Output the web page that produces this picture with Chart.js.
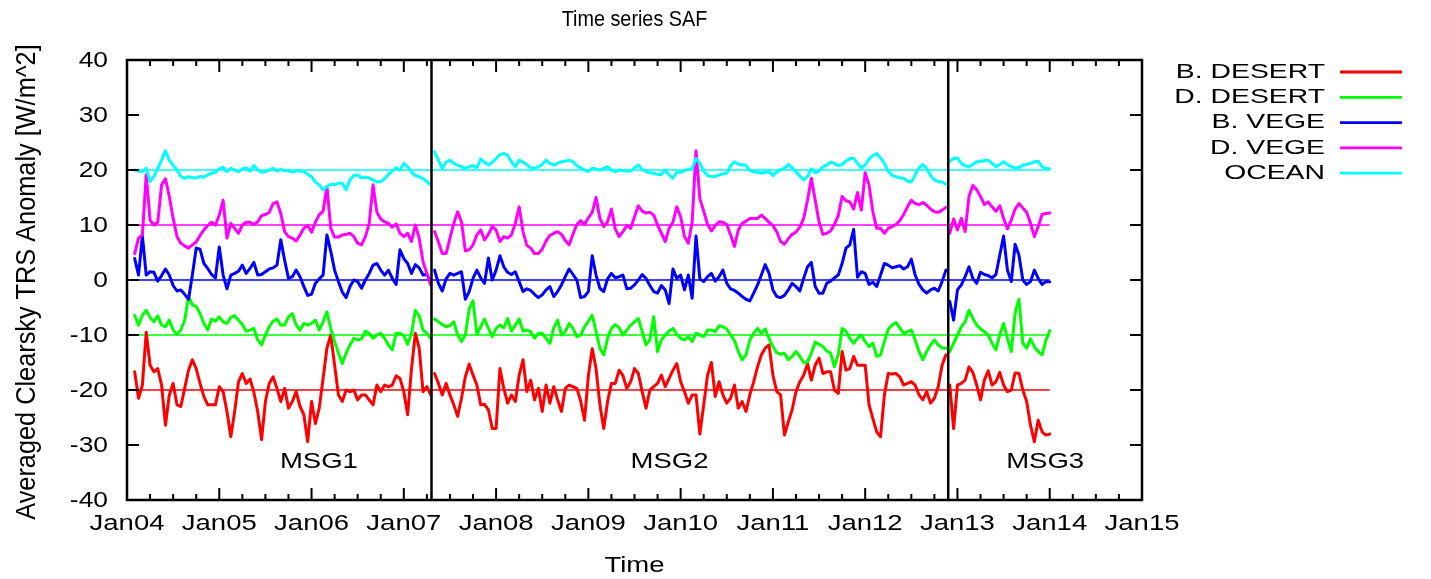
<!DOCTYPE html>
<html><head><meta charset="utf-8">
<script src="https://cdn.jsdelivr.net/npm/chart.js@4.4.1/dist/chart.umd.min.js"></script>
<style>html,body{margin:0;padding:0;background:#fff;}#wrap{width:1431px;height:579px;}</style>
</head><body><div id="wrap"><canvas id="c" width="1431" height="579"></canvas></div>
<script>
// ---- data (semi-monthly samples, 2004.0 .. 2014.0) ----
const startYear = 2004;
const samplesPerYear = 24;
const segmentBreaks = [2007.30, 2012.90];           // MSG1 -> MSG2, MSG2 -> MSG3
const seriesNames  = ['B. DESERT', 'D. DESERT', 'B. VEGE', 'D. VEGE', 'OCEAN'];
const seriesColors = ['#ff0000', '#00ff00', '#0000ff', '#ff00ff', '#00ffff'];
const refLevels = [-20, -10, 0, 10, 20];
const refSpan = [2004.0, 2014.0];
const yearTicks = [2004, 2005, 2006, 2007, 2008, 2009, 2010, 2011, 2012, 2013, 2014, 2015];
const yTicks = [-40, -30, -20, -10, 0, 10, 20, 30, 40];
const msgNames = ['MSG1', 'MSG2', 'MSG3'];
const msgX = [2006.08, 2009.88, 2013.95];
const msgY = [-33, -33, -33];

const bDesert = [
null,null,-16.7,-21.5,-19.1,-9.5,-15.5,-16.7,-16.1,-19.1,-26.4,-20.9,-18.8,-22.7,-23.0,-19.7,-16.4,-14.5,-16.1,-18.8,-21.2,-22.7,-22.7,-22.7,-19.4,-20.3,-23.9,-28.5,-23.9,-18.5,-17.0,-18.8,-18.0,-20.4,-23.9,-29.0,-22.1,-18.8,-17.6,-19.7,-22.1,-19.7,-23.3,-22.1,-20.3,-23.0,-24.5,-29.4,
-22.1,-26.1,-23.3,-17.9,-12.4,-10.0,-15.5,-20.9,-22.1,-20.0,-20.3,-20.0,-21.8,-20.9,-20.9,-21.8,-22.7,-19.1,-20.3,-19.1,-19.4,-19.1,-17.4,-17.9,-20.3,-24.5,-16.1,-9.7,-12.4,-20.3,-19.4,-20.9,-17.0,-18.8,-20.9,-18.8,-20.9,-22.7,-24.8,-21.5,-17.6,-15.3,-17.3,-19.1,-22.7,-22.6,-23.6,-27.0,
-27.0,-16.1,-19.7,-22.4,-20.9,-22.1,-17.3,-14.5,-20.3,-18.2,-21.8,-19.7,-23.9,-19.1,-22.4,-19.4,-21.8,-23.9,-19.7,-19.1,-19.4,-19.7,-22.0,-25.5,-17.4,-12.5,-16.1,-22.7,-27.0,-22.1,-18.8,-18.8,-16.4,-17.4,-19.7,-18.5,-16.1,-17.0,-20.3,-23.3,-20.0,-19.4,-18.8,-17.3,-19.4,-17.9,-16.4,-15.2,
-18.5,-20.3,-22.4,-20.9,-20.9,-28.0,-22.7,-17.3,-15.0,-21.2,-18.5,-20.9,-22.4,-21.5,-19.1,-23.3,-22.1,-23.9,-20.9,-18.5,-15.8,-13.6,-12.4,-11.8,-17.3,-20.3,-20.9,-28.2,-25.8,-23.6,-20.3,-18.5,-17.3,-15.2,-18.2,-15.5,-14.2,-17.0,-16.7,-16.7,-20.0,-20.6,-13.0,-16.4,-16.1,-13.9,-15.5,-15.5,
-15.5,-22.7,-25.2,-27.6,-28.5,-20.9,-17.0,-17.1,-17.0,-17.6,-19.1,-18.8,-18.5,-19.1,-20.9,-21.8,-20.3,-22.4,-21.5,-19.4,-15.5,-13.6,-19.1,-27.0,-19.1,-18.8,-18.2,-15.8,-16.8,-19.1,-21.8,-18.2,-16.5,-19.1,-18.5,-16.8,-19.1,-20.3,-20.0,-16.9,-17.0,-20.0,-22.1,-26.4,-29.4,-25.5,-27.6,-28.2,
-28.0];

const dDesert = [
null,null,-6.4,-8.2,-6.4,-5.5,-6.8,-7.6,-6.5,-8.2,-8.5,-7.3,-9.1,-9.9,-9.1,-7.3,-3.0,-4.5,-4.8,-6.1,-7.9,-9.1,-7.1,-7.5,-6.7,-7.6,-7.9,-6.8,-6.5,-7.3,-8.1,-9.3,-9.1,-8.8,-10.9,-11.8,-10.0,-8.5,-7.5,-7.1,-8.2,-8.2,-6.7,-6.1,-8.2,-9.1,-7.9,-8.2,
-7.9,-7.3,-9.1,-7.6,-5.8,-8.8,-11.2,-13.3,-15.2,-13.3,-11.8,-10.6,-10.9,-10.7,-9.3,-9.7,-10.6,-10.0,-9.7,-10.6,-11.8,-12.7,-9.7,-9.7,-10.1,-11.7,-9.7,-5.5,-6.5,-9.1,-9.7,-10.6,-7.1,-7.6,-8.1,-8.5,-8.3,-7.6,-10.0,-11.2,-10.0,-5.2,-3.8,-9.9,-8.5,-7.1,-8.8,-10.3,
-8.8,-8.2,-8.7,-7.0,-9.3,-8.2,-7.1,-9.3,-9.1,-9.4,-10.6,-9.7,-9.7,-10.6,-11.5,-8.7,-7.3,-10.0,-9.4,-7.9,-8.8,-10.3,-10.0,-8.5,-7.5,-6.4,-9.4,-12.4,-13.6,-10.6,-8.8,-8.1,-8.7,-10.0,-9.1,-8.2,-7.6,-7.0,-9.4,-11.8,-10.9,-6.7,-13.0,-10.9,-10.0,-9.3,-8.8,-9.9,
-10.6,-10.9,-10.3,-11.2,-9.7,-10.0,-10.3,-9.1,-9.1,-9.4,-8.3,-8.5,-8.9,-10.0,-11.0,-13.0,-14.5,-13.6,-10.9,-9.7,-8.8,-9.7,-8.9,-10.6,-12.1,-13.2,-13.5,-13.3,-14.5,-13.9,-13.0,-13.9,-15.0,-14.9,-13.3,-11.3,-11.7,-12.1,-12.9,-13.3,-15.8,-13.6,-8.8,-9.3,-10.6,-11.5,-10.6,-10.0,
-11.2,-12.1,-11.5,-13.9,-13.6,-11.2,-8.9,-8.2,-7.7,-8.7,-9.7,-9.4,-9.1,-10.9,-13.0,-14.5,-13.0,-11.8,-10.9,-11.8,-12.4,-12.4,-13.0,-11.5,-10.0,-8.5,-7.6,-5.5,-7.0,-8.2,-8.9,-9.4,-10.0,-11.5,-12.7,-10.0,-7.9,-10.6,-13.0,-6.0,-3.5,-11.5,-12.4,-10.7,-12.1,-13.0,-13.6,-11.0,
-9.2];

const bVege = [
null,null,3.9,0.9,8.0,0.9,1.5,1.4,-0.2,0.8,2.0,0.9,-1.0,-2.0,-1.8,-2.6,-3.5,0.9,5.8,5.6,3.0,2.1,1.0,0.4,6.0,0.9,-1.6,0.9,1.2,1.6,2.7,1.2,2.1,3.2,0.9,1.0,1.5,2.0,2.2,2.7,7.3,3.6,0.3,0.6,1.8,0.6,-1.2,-2.8,
-2.6,-0.6,0.2,0.9,8.2,5.2,1.8,-0.3,-2.2,-3.2,-1.2,0.0,-0.3,-1.5,0.0,1.2,2.7,3.0,1.8,0.9,1.8,0.3,-0.8,5.5,3.9,3.0,1.2,2.8,2.2,0.9,1.0,-0.3,1.8,-0.6,-2.0,0.2,1.2,0.9,1.2,1.5,-3.5,-2.1,0.3,1.8,0.4,-0.6,4.0,0.0,
1.8,4.4,2.4,1.4,1.0,1.5,-0.3,-2.1,-1.6,-1.9,-2.6,-3.2,-2.7,-1.8,-1.2,-3.0,-2.1,-0.9,0.6,2.0,1.0,0.0,-3.2,-3.0,-2.1,4.4,0.9,-1.5,-2.1,0.2,1.2,0.4,0.6,0.9,-1.6,-1.5,-0.9,0.0,1.0,0.3,-1.0,-2.1,-2.4,-1.0,-1.8,-4.3,2.0,0.3,
0.9,-1.8,0.9,-3.3,8.0,0.2,-0.3,0.6,1.2,-0.2,0.6,1.8,-0.6,-1.6,-1.9,-2.4,-3.0,-3.5,-3.8,-2.4,-0.9,0.9,2.8,1.2,-1.8,-3.0,-3.2,-2.8,-1.8,-0.6,-1.2,-2.0,0.3,2.4,3.2,-1.2,-2.4,-2.4,-0.6,-0.2,0.4,0.9,3.0,5.8,6.4,9.2,0.5,1.5,
1.2,-0.8,-0.4,-1.2,0.9,3.0,2.7,2.2,2.4,2.6,2.0,2.4,3.8,0.9,-0.8,-1.8,-2.4,-1.8,-1.5,-2.0,-0.3,1.8,-3.9,-7.3,-1.8,-0.9,0.6,2.4,0.3,-0.6,1.4,1.0,0.8,0.4,1.0,4.5,8.0,1.8,-0.3,6.5,4.5,0.0,-0.8,-0.3,1.8,0.3,-0.8,-0.3,
-0.3];

const dVege = [
null,null,4.8,7.6,8.2,19.1,10.9,10.0,10.5,17.3,18.4,15.2,11.2,7.9,6.7,6.2,5.8,6.4,6.9,8.1,9.1,9.9,10.5,10.0,11.8,14.5,7.6,10.3,9.4,8.5,10.0,10.5,10.5,10.1,10.6,11.7,11.9,12.3,13.9,14.2,12.1,8.8,7.9,7.6,7.1,8.2,9.4,9.9,
8.7,10.5,11.9,12.5,17.0,9.4,7.8,7.8,8.2,8.3,8.5,7.9,6.7,6.4,7.9,10.3,17.3,12.3,11.1,10.6,10.3,9.6,10.2,8.5,7.9,8.5,7.0,10.0,7.6,3.3,1.2,-0.9,8.8,6.9,4.8,4.8,7.6,10.3,12.4,10.6,5.3,5.5,6.4,8.2,9.1,7.3,8.3,9.7,
9.1,7.0,7.9,7.6,8.2,10.3,13.3,8.8,6.3,5.8,4.8,4.8,5.6,7.1,8.1,8.5,8.8,8.3,7.2,6.4,8.3,10.1,10.8,10.1,11.3,12.3,15.0,11.2,9.7,10.6,12.9,9.3,7.9,8.8,9.9,9.4,11.5,13.5,12.5,12.2,12.3,11.8,10.0,8.5,7.0,9.4,10.5,13.3,
11.5,7.9,6.7,10.6,23.5,14.8,12.5,10.1,8.9,9.9,10.6,10.5,10.1,8.2,6.1,9.1,10.3,10.7,11.2,11.2,11.2,11.8,11.2,10.5,9.9,8.8,7.0,6.5,7.5,8.3,8.7,9.6,11.2,14.5,18.5,14.5,10.6,8.3,8.5,8.9,10.1,11.7,15.2,14.4,14.2,12.9,15.9,12.7,
19.5,17.3,12.4,9.4,9.4,8.5,9.4,9.7,10.1,10.8,11.9,13.3,14.5,13.9,13.7,14.1,13.6,12.9,12.4,12.3,12.7,13.2,8.5,11.1,9.1,11.2,8.8,15.2,17.2,16.4,15.2,13.7,14.2,13.3,12.5,13.5,11.2,9.3,10.9,12.9,13.9,13.1,12.3,10.3,7.9,9.7,11.9,12.1,
12.2];

const ocean = [
null,null,20.0,19.8,19.7,20.3,17.9,18.8,20.3,21.8,23.5,21.8,20.9,20.0,18.8,18.5,18.8,18.6,18.6,18.8,18.7,19.1,19.4,19.6,20.2,20.5,19.7,20.3,20.0,19.7,20.2,20.4,19.8,20.8,20.0,19.6,19.7,20.0,20.3,19.8,20.1,19.9,19.8,19.7,19.8,19.8,19.7,19.2,
18.8,17.8,17.3,16.4,17.0,17.4,17.3,17.6,17.6,16.4,18.2,19.0,19.1,18.6,18.7,18.6,18.2,17.8,17.9,18.4,19.2,19.8,20.4,20.0,21.2,20.6,19.6,19.0,18.8,18.4,17.9,17.3,23.3,21.8,20.3,21.4,21.8,21.2,20.9,20.6,20.3,20.6,20.8,20.4,22.0,21.4,20.9,21.4,
22.1,22.8,23.0,22.7,21.5,20.6,21.8,21.4,21.0,20.4,20.3,20.6,21.0,21.8,21.2,20.9,21.2,21.5,21.6,21.8,21.5,20.8,20.4,20.0,19.7,20.3,20.2,20.0,20.3,20.6,20.0,19.7,20.0,19.9,19.8,19.8,20.4,20.9,20.1,19.7,19.5,19.4,19.2,19.2,20.0,19.1,18.5,19.6,
19.6,19.9,20.1,20.3,22.1,21.2,19.8,19.0,18.8,18.8,19.1,19.3,19.4,20.8,21.5,21.1,20.9,20.9,19.9,19.7,19.6,19.4,19.6,19.7,19.0,19.6,20.1,20.3,21.0,20.4,19.7,18.9,18.2,18.8,20.2,19.5,19.8,20.6,20.9,21.4,21.2,20.8,21.0,21.6,22.1,22.1,21.2,20.4,
20.9,22.0,22.6,23.0,22.2,21.2,19.8,19.0,18.8,18.6,18.5,18.0,17.8,19.1,20.4,21.0,20.3,19.0,18.2,17.9,17.8,17.4,21.6,22.1,22.2,21.2,20.8,20.6,21.0,21.5,21.6,21.7,21.8,21.2,20.6,21.0,21.5,21.0,20.6,20.4,20.4,20.9,21.0,21.2,21.5,21.6,20.6,20.3,
20.2];

const seriesValues = [bDesert, dDesert, bVege, dVege, ocean];

// ---- build points ----
function toPoints(values) {
  const pts = [];
  let b = 0;
  values.forEach((v, i) => {
    const t = startYear + i / samplesPerYear;
    while (b < segmentBreaks.length && t > segmentBreaks[b]) {
      pts.push({ x: segmentBreaks[b], y: null });
      b++;
    }
    pts.push({ x: t, y: v });
  });
  return pts;
}

const PLOT = { left: 127, right: 1142, top: 60, bottom: 500 };
const FONT = '"Liberation Sans", Arial, Helvetica, sans-serif';

const datasets = [];
// satellite-switch vertical lines (on top)
segmentBreaks.forEach(x => {
  datasets.push({ data: [{ x: x, y: -40 }, { x: x, y: 40 }], borderColor: '#000', borderWidth: 2.5,
    pointRadius: 0, order: 0, isLegend: false });
});
seriesNames.forEach((name, k) => {
  datasets.push({ label: name, data: toPoints(seriesValues[k]), borderColor: seriesColors[k],
    borderWidth: 3, pointRadius: 0, spanGaps: false, borderJoinStyle: 'round', borderCapStyle: 'round',
    order: 1 + (seriesNames.length - k), isLegend: true });
});
refLevels.forEach((lvl, k) => {
  datasets.push({ data: [{ x: refSpan[0], y: lvl }, { x: refSpan[1], y: lvl }], borderColor: seriesColors[k],
    borderWidth: 1.4, pointRadius: 0, order: 20, isLegend: false });
});

function stretchedText(ctx, text, x, y, size, sx, sy, align, baseline, rot) {
  ctx.save();
  ctx.translate(x, y);
  if (rot) ctx.rotate(rot);
  ctx.scale(sx, sy);
  ctx.font = size + 'px ' + FONT;
  ctx.fillStyle = '#000';
  ctx.textAlign = align;
  ctx.textBaseline = baseline;
  ctx.fillText(text, 0, 0);
  ctx.restore();
}

const decor = {
  id: 'decor',
  afterDatasetsDraw(chart) {
    const ctx = chart.ctx;
    const xs = chart.scales.x, ys = chart.scales.y;
    const a = chart.chartArea;
    ctx.save();
    ctx.strokeStyle = '#000';
    ctx.lineWidth = 2.5;
    ctx.strokeRect(a.left, a.top, a.right - a.left, a.bottom - a.top);
    ctx.lineWidth = 2;
    ctx.beginPath();
    // x ticks (major yearly, minor quarterly)
    yearTicks.forEach((yr, i) => {
      const px = xs.getPixelForValue(yr);
      ctx.moveTo(px, a.bottom); ctx.lineTo(px, a.bottom - 12);
      ctx.moveTo(px, a.top); ctx.lineTo(px, a.top + 12);
      if (i < yearTicks.length - 1) {
        for (let q = 1; q < 4; q++) {
          const mx = xs.getPixelForValue(yr + q / 4);
          ctx.moveTo(mx, a.bottom); ctx.lineTo(mx, a.bottom - 6);
          ctx.moveTo(mx, a.top); ctx.lineTo(mx, a.top + 6);
        }
      }
    });
    yTicks.forEach(v => {
      const py = ys.getPixelForValue(v);
      ctx.moveTo(a.left, py); ctx.lineTo(a.left + 12, py);
      ctx.moveTo(a.right, py); ctx.lineTo(a.right - 12, py);
    });
    ctx.stroke();
    ctx.restore();

    // tick labels
    yTicks.forEach(v => {
      stretchedText(ctx, String(v), a.left - 19, ys.getPixelForValue(v) + 1, 22, 1.2, 1, 'right', 'middle');
    });
    yearTicks.forEach(yr => {
      const lbl = 'Jan' + String(yr - 2000).padStart(2, '0');
      stretchedText(ctx, lbl, xs.getPixelForValue(yr), a.bottom + 24, 22, 1.25, 1, 'center', 'middle');
    });
    // axis titles and chart title
    stretchedText(ctx, 'Time', (a.left + a.right) / 2, 566, 22, 1.25, 1, 'center', 'middle');
    stretchedText(ctx, 'Averaged Clearsky TRS Anomaly [W/m^2]', 27, (a.top + a.bottom) / 2 + 2, 22, 1.15, 1.25, 'center', 'middle', -Math.PI / 2);
    stretchedText(ctx, 'Time series SAF', (a.left + a.right) / 2, 20, 22, 0.9, 1, 'center', 'middle');
    // MSG labels
    msgNames.forEach((n, i) => {
      stretchedText(ctx, n, xs.getPixelForValue(msgX[i]), ys.getPixelForValue(msgY[i]), 22, 1.25, 1, 'center', 'middle');
    });
    // legend
    const legendSets = chart.data.datasets.filter(d => d.isLegend);
    legendSets.forEach((d, i) => {
      const y = 72 + i * 25.3;
      stretchedText(ctx, d.label, 1325, y, 21, 1.35, 1, 'right', 'middle');
      ctx.save();
      ctx.strokeStyle = d.borderColor; ctx.lineWidth = 2.8;
      ctx.beginPath(); ctx.moveTo(1340, y); ctx.lineTo(1402, y); ctx.stroke();
      ctx.restore();
    });
  }
};

new Chart(document.getElementById('c'), {
  type: 'line',
  data: { datasets: datasets },
  plugins: [decor],
  options: {
    responsive: false, animation: false, devicePixelRatio: 1,
    layout: { padding: { left: 0, top: PLOT.top, right: 1431 - PLOT.right, bottom: 0 } },
    plugins: { legend: { display: false }, tooltip: { enabled: false }, title: { display: false } },
    elements: { line: { tension: 0 } },
    scales: {
      x: { type: 'linear', min: 2004, max: 2015, grid: { display: false }, border: { display: false },
           ticks: { display: false, stepSize: 1 }, afterFit: s => { s.height = 579 - PLOT.bottom; } },
      y: { type: 'linear', min: -40, max: 40, grid: { display: false }, border: { display: false },
           ticks: { display: false, stepSize: 10 }, afterFit: s => { s.width = PLOT.left; } }
    }
  }
});
</script></body></html>
